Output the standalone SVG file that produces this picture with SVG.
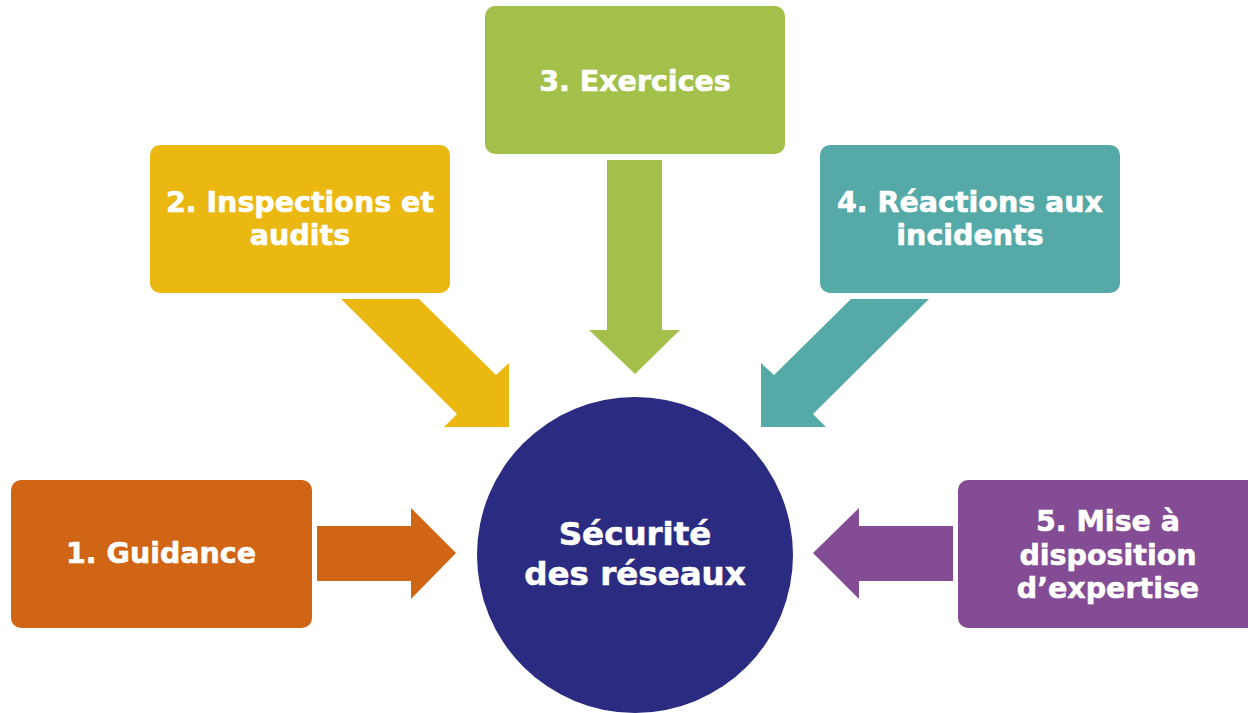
<svg xmlns="http://www.w3.org/2000/svg" width="1248" height="713" viewBox="0 0 1248 713">
<style>
.t{font-family:"DejaVu Sans","Verdana",sans-serif;font-weight:bold;fill:#fff;stroke:#fff;stroke-width:0.6;text-anchor:middle;font-size:28.5px}
.c{font-size:32.5px}
.o{fill:#D06515}.y{fill:#EAB811}.g{fill:#A3C14A}.tl{fill:#55AAA8}.p{fill:#834C94}
</style>
<rect width="1248" height="713" fill="#fff"/>
<g id="connectors">
<polygon class="o" points="317,526 411,526 411,508 456,553 411,599 411,581 317,581"/>
<polygon class="p" points="953,526 859,526 859,508 813,553 859,599 859,581 953,581"/>
<polygon class="g" points="607,160 662,160 662,330 680,330 635,374 589,330 607,330"/>
<polygon class="y" points="341,299 419,299 496,375 509,363 509,427 444,427 457,414"/>
<polygon class="tl" points="929,299 851,299 774,375 761,363 761,427 826,427 813,414"/>
</g>
<g id="center">
<circle cx="635" cy="555" r="158" fill="#2A2B81"/>
<text class="t c" x="635" y="545">Sécurité</text>
<text class="t c" x="635" y="585">des réseaux</text>
</g>
<g id="node1">
<rect class="o" x="11" y="480" width="301" height="148" rx="10"/>
<text class="t" x="161" y="563">1. Guidance</text>
</g>
<g id="node2">
<rect class="y" x="150" y="145" width="300" height="148" rx="10"/>
<text class="t" x="300" y="212">2. Inspections et</text>
<text class="t" x="300" y="245">audits</text>
</g>
<g id="node3">
<rect class="g" x="485" y="6" width="300" height="148" rx="10"/>
<text class="t" x="635" y="91">3. Exercices</text>
</g>
<g id="node4">
<rect class="tl" x="820" y="145" width="300" height="148" rx="10"/>
<text class="t" x="970" y="212">4. Réactions aux</text>
<text class="t" x="970" y="245">incidents</text>
</g>
<g id="node5">
<rect class="p" x="958" y="480" width="300" height="148" rx="10"/>
<text class="t" x="1108" y="531">5. Mise à</text>
<text class="t" x="1108" y="565">disposition</text>
<text class="t" x="1108" y="598">d’expertise</text>
</g>
</svg>
